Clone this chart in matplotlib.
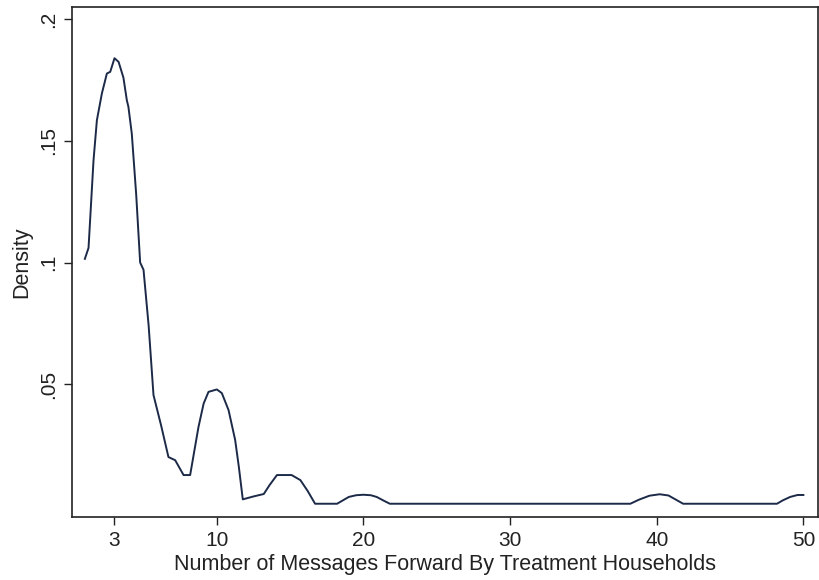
import numpy as np
import matplotlib.pyplot as plt

plt.rcParams['font.family'] = ['Liberation Sans', 'DejaVu Sans']

# kernel density curve
msgs = [1.0, 1.25, 1.59, 1.82, 2.16, 2.5, 2.73, 3.02, 3.3, 3.63, 3.86, 3.97, 4.2,
        4.5, 4.77, 5.0, 5.35, 5.68, 6.2, 6.7, 7.16, 7.73, 8.18, 8.45, 8.75, 9.1,
        9.43, 10.0, 10.34, 10.8, 11.25, 11.5, 11.77, 12.5, 13.2, 13.6, 14.1, 15.1,
        15.7, 16.2, 16.7, 18.2, 18.6, 19.0, 19.5, 20.0, 20.5, 20.9, 21.4, 21.8,
        38.2, 38.8, 39.5, 40.2, 40.8, 41.3, 41.8, 48.2, 48.6, 49.1, 49.6, 50.0]
density = [0.1015, 0.106, 0.142, 0.1585, 0.1695, 0.1777, 0.1784, 0.184, 0.1825,
           0.176, 0.1668, 0.164, 0.153, 0.128, 0.100, 0.097, 0.074, 0.0455, 0.033,
           0.020, 0.0187, 0.0126, 0.0126, 0.022, 0.0324, 0.042, 0.0468, 0.0478,
           0.0463, 0.0393, 0.027, 0.016, 0.0026, 0.0038, 0.0048, 0.0085, 0.0126,
           0.0126, 0.0105, 0.006, 0.0008, 0.0008, 0.0022, 0.0036, 0.0043, 0.0045,
           0.0043, 0.0036, 0.002, 0.0008, 0.0008, 0.0025, 0.0041, 0.0047, 0.0042,
           0.0025, 0.0008, 0.0008, 0.0022, 0.0036, 0.0044, 0.0044]

xticks = [3, 10, 20, 30, 40, 50]
yticks = [0.05, 0.1, 0.15, 0.2]
ytick_labels = ['.05', '.1', '.15', '.2']

fig = plt.figure(figsize=(8.2, 5.8), dpi=100)
ax = fig.add_axes([0.0874, 0.108, 0.9102, 0.8805])

ax.plot(msgs, density, color='#1c2a48', linewidth=1.4)

ax.set_xlim(0.1, 51.0)
ax.set_ylim(-0.0048, 0.2052)
ax.set_xticks(xticks)
ax.set_xticklabels([str(t) for t in xticks])
ax.set_yticks(yticks)
ax.set_yticklabels(ytick_labels, rotation=90, va='center')
ax.tick_params(direction='out', length=6, width=1, labelsize=15, colors='#222222')

ax.set_xlabel('Number of Messages Forward By Treatment Households', fontsize=15.5,
              color='#222222', labelpad=3)
ax.set_ylabel('Density', fontsize=15.5, color='#222222', labelpad=5)

for s in ax.spines.values():
    s.set_linewidth(1.2)
    s.set_color('#222222')

fig.savefig('out.png', dpi=100, facecolor='white')
